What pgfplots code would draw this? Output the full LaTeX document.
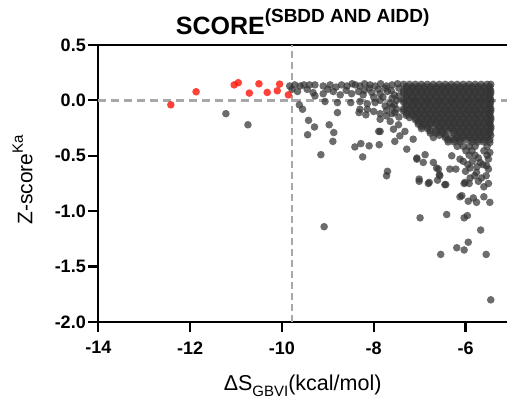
\documentclass[border=0pt]{standalone}
\usepackage{fontspec}
\setmainfont{Liberation Sans}
\usepackage{pgfplots}
\pgfplotsset{compat=1.18}
\definecolor{ptgray}{RGB}{51,51,51}
\definecolor{rd}{RGB}{255,20,10}
\definecolor{dashgray}{RGB}{168,168,168}
\pgfplotsset{graypts/.style={only marks, mark=*, mark size=3.8pt, draw opacity=0, line width=0pt, mark options={draw opacity=0, line width=0pt, fill=ptgray, fill opacity=0.72}}}
\begin{document}
\begin{tikzpicture}
\begin{axis}[name=ax,
  scale only axis, width=408.7pt, height=277pt,
  xmin=-14, xmax=-5.096, ymin=-2.0, ymax=0.5,
  axis x line=box, axis y line=left,
  axis line style={-, line width=2.2pt, black},
  xtick pos=bottom, ytick pos=left,
  tick align=outside, major tick length=10pt,
  every tick/.style={black, line width=2.2pt},
  xtick={-14,-12,-10,-8,-6}, xticklabels={-14,-12,-10,-8,-6},
  ytick={-2,-1.5,-1,-0.5,0,0.5}, yticklabels={-2.0,-1.5,-1.0,-0.5,0.0,0.5},
  ticklabel style={font=\fontsize{18}{18}\selectfont\bfseries},
  xticklabel style={yshift=-6pt},
  yticklabel style={xshift=1pt},
  clip=false,
]
% reference lines
\addplot[dashgray, line width=2.3pt, dash pattern=on 8pt off 5pt] coordinates {(-14,0) (-5.096,0)};
\addplot[dashgray, line width=2.3pt, dash pattern=on 7pt off 4pt] coordinates {(-9.78,-2) (-9.78,0.5)};
% scattered gray points
\addplot[graypts] table {
x y
-11.22 -0.12
-10.74 -0.22
-9.83 0.13
-9.78 0.10
-9.72 0.14
-9.66 0.08
-9.60 0.13
-9.52 0.14
-9.45 0.10
-9.40 0.14
-9.28 0.14
-9.10 0.13
-8.95 0.14
-8.82 0.12
-8.70 0.14
-8.58 0.13
-8.47 0.15
-8.40 0.14
-8.30 0.13
-8.20 0.15
-8.08 0.14
-7.97 0.13
-7.85 0.15
-7.72 0.13
-7.60 0.14
-7.48 0.15
-9.32 0.07
-9.28 0.04
-9.10 0.06
-9.00 0.10
-8.88 0.08
-8.73 0.05
-8.60 0.09
-8.48 0.06
-8.33 0.08
-8.23 0.05
-8.20 0.09
-8.10 0.11
-8.04 0.07
-7.90 0.10
-7.86 0.06
-7.75 0.11
-7.70 0.08
-7.62 0.09
-7.55 0.05
-7.45 0.11
-9.06 -0.01
-8.79 -0.02
-8.50 -0.02
-8.30 -0.01
-8.14 -0.03
-8.00 0.03
-7.97 -0.02
-7.86 0.00
-7.80 0.03
-7.65 -0.03
-7.60 0.02
-7.50 0.00
-7.45 0.04
-8.79 -0.11
-8.32 -0.11
-8.17 -0.13
-8.14 -0.08
-8.00 -0.10
-7.86 -0.12
-7.75 -0.05
-7.72 -0.09
-7.60 -0.12
-7.60 -0.06
-7.55 -0.04
-7.50 -0.08
-7.45 -0.15
-8.30 -0.08
-7.86 -0.17
-7.72 -0.14
-7.64 -0.19
-7.54 -0.11
-7.46 -0.22
-7.57 -0.26
-7.86 -0.28
-7.43 -0.32
-7.32 -0.28
-9.62 -0.04
-9.55 -0.08
-9.42 -0.18
-9.29 -0.24
-9.44 -0.31
-8.97 -0.22
-8.87 -0.29
-8.89 -0.37
-9.15 -0.49
-8.41 -0.42
-8.28 -0.39
-8.10 -0.41
-8.24 -0.51
-7.88 -0.40
-7.89 -0.28
-7.70 -0.64
-7.72 -0.68
-9.08 -1.14
-7.54 -0.37
-7.28 -0.44
-7.14 -0.35
-7.06 -0.52
-6.88 -0.49
-6.92 -0.56
-6.70 -0.56
-6.59 -0.62
-6.56 -0.68
-7.01 -0.71
-6.79 -0.74
-6.45 -0.76
-6.34 -0.62
-6.21 -0.62
-6.30 -0.50
-6.12 -0.53
-6.01 -0.74
-5.90 -0.61
-5.76 -0.65
-5.68 -0.56
-5.54 -0.59
-5.47 -0.47
-5.47 -0.38
-6.08 -0.86
-7.06 -0.53
-6.63 -0.61
-6.57 -0.67
-6.43 -0.76
-7.01 -0.73
-6.81 -0.75
-6.61 -0.72
-6.03 -0.75
-5.92 -0.75
-5.72 -0.73
-6.12 -0.87
-5.94 -0.91
-5.83 -0.88
-5.76 -0.92
-5.60 -0.87
-5.47 -0.92
-6.99 -1.06
-6.41 -1.03
-6.03 -1.06
-5.96 -1.04
-5.67 -1.17
-5.94 -1.28
-6.19 -1.33
-6.03 -1.35
-6.54 -1.39
-5.55 -1.39
-5.45 -1.80
-6.05 -0.55
-5.95 -0.58
-5.85 -0.55
-5.75 -0.60
-5.62 -0.58
-5.50 -0.62
-5.55 -0.68
-5.65 -0.70
-5.80 -0.68
-5.90 -0.70
-5.60 -0.78
-5.50 -0.75
-6.00 -0.64
-5.72 -0.52
-5.50 -0.53
};
% dense block, rows A pattern
\addplot[graypts] table {
x y
-7.35 0.145
-7.22 0.145
-7.09 0.145
-6.96 0.145
-6.83 0.145
-6.70 0.145
-6.57 0.145
-6.44 0.145
-6.31 0.145
-6.18 0.145
-6.05 0.145
-5.92 0.145
-5.79 0.145
-5.66 0.145
-5.53 0.145
-5.45 0.145
-7.35 0.085
-7.22 0.085
-7.09 0.085
-6.96 0.085
-6.83 0.085
-6.70 0.085
-6.57 0.085
-6.44 0.085
-6.31 0.085
-6.18 0.085
-6.05 0.085
-5.92 0.085
-5.79 0.085
-5.66 0.085
-5.53 0.085
-5.45 0.085
-7.35 0.065
-7.22 0.065
-7.09 0.065
-6.96 0.065
-6.83 0.065
-6.70 0.065
-6.57 0.065
-6.44 0.065
-6.31 0.065
-6.18 0.065
-6.05 0.065
-5.92 0.065
-5.79 0.065
-5.66 0.065
-5.53 0.065
-5.45 0.065
-7.35 0.005
-7.22 0.005
-7.09 0.005
-6.96 0.005
-6.83 0.005
-6.70 0.005
-6.57 0.005
-6.44 0.005
-6.31 0.005
-6.18 0.005
-6.05 0.005
-5.92 0.005
-5.79 0.005
-5.66 0.005
-5.53 0.005
-5.45 0.005
-7.35 -0.015
-7.22 -0.015
-7.09 -0.015
-6.96 -0.015
-6.83 -0.015
-6.70 -0.015
-6.57 -0.015
-6.44 -0.015
-6.31 -0.015
-6.18 -0.015
-6.05 -0.015
-5.92 -0.015
-5.79 -0.015
-5.66 -0.015
-5.53 -0.015
-5.45 -0.015
-7.35 -0.075
-7.22 -0.075
-7.09 -0.075
-6.96 -0.075
-6.83 -0.075
-6.70 -0.075
-6.57 -0.075
-6.44 -0.075
-6.31 -0.075
-6.18 -0.075
-6.05 -0.075
-5.92 -0.075
-5.79 -0.075
-5.66 -0.075
-5.53 -0.075
-5.45 -0.075
-7.35 -0.095
-7.22 -0.095
-7.09 -0.095
-6.96 -0.095
-6.83 -0.095
-6.70 -0.095
-6.57 -0.095
-6.44 -0.095
-6.31 -0.095
-6.18 -0.095
-6.05 -0.095
-5.92 -0.095
-5.79 -0.095
-5.66 -0.095
-5.53 -0.095
-5.45 -0.095
-7.22 -0.155
-7.09 -0.155
-6.96 -0.155
-6.83 -0.155
-6.70 -0.155
-6.57 -0.155
-6.44 -0.155
-6.31 -0.155
-6.18 -0.155
-6.05 -0.155
-5.92 -0.155
-5.79 -0.155
-5.66 -0.155
-5.53 -0.155
-5.45 -0.155
-7.09 -0.175
-6.96 -0.175
-6.83 -0.175
-6.70 -0.175
-6.57 -0.175
-6.44 -0.175
-6.31 -0.175
-6.18 -0.175
-6.05 -0.175
-5.92 -0.175
-5.79 -0.175
-5.66 -0.175
-5.53 -0.175
-5.45 -0.175
-6.96 -0.235
-6.83 -0.235
-6.70 -0.235
-6.57 -0.235
-6.44 -0.235
-6.31 -0.235
-6.18 -0.235
-6.05 -0.235
-5.92 -0.235
-5.79 -0.235
-5.66 -0.235
-5.53 -0.235
-5.45 -0.235
-6.96 -0.255
-6.83 -0.255
-6.57 -0.255
-6.44 -0.255
-6.31 -0.255
-6.18 -0.255
-6.05 -0.255
-5.92 -0.255
-5.79 -0.255
-5.66 -0.255
-5.53 -0.255
-5.45 -0.255
-6.57 -0.315
-6.44 -0.315
-6.18 -0.315
-6.05 -0.315
-5.92 -0.315
-5.79 -0.315
-5.66 -0.315
-5.53 -0.315
-5.45 -0.315
-6.70 -0.335
-6.44 -0.335
-6.31 -0.335
-6.18 -0.335
-6.05 -0.335
-5.92 -0.335
-5.79 -0.335
-5.66 -0.335
-5.53 -0.335
-6.18 -0.415
-6.05 -0.415
-5.92 -0.415
-5.79 -0.415
-5.53 -0.415
-5.92 -0.495
-5.79 -0.495
-5.53 -0.495
};
% dense block, rows B pattern
\addplot[graypts] table {
x y
-7.29 0.125
-7.16 0.125
-7.03 0.125
-6.90 0.125
-6.77 0.125
-6.64 0.125
-6.51 0.125
-6.38 0.125
-6.25 0.125
-6.12 0.125
-5.99 0.125
-5.86 0.125
-5.73 0.125
-5.60 0.125
-5.47 0.125
-7.29 0.105
-7.16 0.105
-7.03 0.105
-6.90 0.105
-6.77 0.105
-6.64 0.105
-6.51 0.105
-6.38 0.105
-6.25 0.105
-6.12 0.105
-5.99 0.105
-5.86 0.105
-5.73 0.105
-5.60 0.105
-5.47 0.105
-7.29 0.045
-7.16 0.045
-7.03 0.045
-6.90 0.045
-6.77 0.045
-6.64 0.045
-6.51 0.045
-6.38 0.045
-6.25 0.045
-6.12 0.045
-5.99 0.045
-5.86 0.045
-5.73 0.045
-5.60 0.045
-5.47 0.045
-7.29 0.025
-7.16 0.025
-7.03 0.025
-6.90 0.025
-6.77 0.025
-6.64 0.025
-6.51 0.025
-6.38 0.025
-6.25 0.025
-6.12 0.025
-5.99 0.025
-5.86 0.025
-5.73 0.025
-5.60 0.025
-5.47 0.025
-7.29 -0.035
-7.16 -0.035
-7.03 -0.035
-6.90 -0.035
-6.77 -0.035
-6.64 -0.035
-6.51 -0.035
-6.38 -0.035
-6.25 -0.035
-6.12 -0.035
-5.99 -0.035
-5.86 -0.035
-5.73 -0.035
-5.60 -0.035
-5.47 -0.035
-7.29 -0.055
-7.16 -0.055
-7.03 -0.055
-6.90 -0.055
-6.77 -0.055
-6.64 -0.055
-6.51 -0.055
-6.38 -0.055
-6.25 -0.055
-6.12 -0.055
-5.99 -0.055
-5.86 -0.055
-5.73 -0.055
-5.60 -0.055
-5.47 -0.055
-7.29 -0.115
-7.16 -0.115
-7.03 -0.115
-6.90 -0.115
-6.77 -0.115
-6.64 -0.115
-6.51 -0.115
-6.38 -0.115
-6.25 -0.115
-6.12 -0.115
-5.99 -0.115
-5.86 -0.115
-5.73 -0.115
-5.60 -0.115
-5.47 -0.115
-7.29 -0.135
-7.16 -0.135
-7.03 -0.135
-6.90 -0.135
-6.77 -0.135
-6.64 -0.135
-6.51 -0.135
-6.38 -0.135
-6.25 -0.135
-6.12 -0.135
-5.99 -0.135
-5.86 -0.135
-5.73 -0.135
-5.60 -0.135
-5.47 -0.135
-7.03 -0.195
-6.90 -0.195
-6.77 -0.195
-6.64 -0.195
-6.51 -0.195
-6.38 -0.195
-6.25 -0.195
-6.12 -0.195
-5.99 -0.195
-5.86 -0.195
-5.73 -0.195
-5.60 -0.195
-5.47 -0.195
-7.03 -0.215
-6.90 -0.215
-6.77 -0.215
-6.64 -0.215
-6.51 -0.215
-6.38 -0.215
-6.25 -0.215
-6.12 -0.215
-5.99 -0.215
-5.86 -0.215
-5.73 -0.215
-5.60 -0.215
-5.47 -0.215
-6.77 -0.275
-6.64 -0.275
-6.51 -0.275
-6.38 -0.275
-6.25 -0.275
-6.12 -0.275
-5.99 -0.275
-5.86 -0.275
-5.73 -0.275
-5.60 -0.275
-5.47 -0.275
-6.77 -0.295
-6.64 -0.295
-6.51 -0.295
-6.25 -0.295
-6.12 -0.295
-5.99 -0.295
-5.86 -0.295
-5.73 -0.295
-5.60 -0.295
-5.47 -0.295
-6.38 -0.355
-6.25 -0.355
-6.12 -0.355
-5.99 -0.355
-5.86 -0.355
-5.73 -0.355
-5.60 -0.355
-5.47 -0.355
-6.38 -0.375
-6.25 -0.375
-6.12 -0.375
-5.86 -0.375
-5.73 -0.375
-5.60 -0.375
-5.99 -0.455
-5.86 -0.455
-5.60 -0.455
};
% red points
\addplot[only marks, mark=*, mark size=3.8pt, draw opacity=0, line width=0pt, mark options={draw opacity=0, line width=0pt, fill=rd, fill opacity=0.8}] table {
x y
-12.42 -0.04
-11.87 0.078
-11.04 0.14
-10.95 0.16
-10.71 0.066
-10.50 0.15
-10.32 0.072
-10.10 0.087
-10.05 0.147
-9.86 0.05
};
\node[rotate=90, anchor=base] at ([xshift=-66pt]rel axis cs:0,0.513)
  {\fontsize{21}{21}\selectfont Z-score\raisebox{0.45em}{\fontsize{15}{15}\selectfont Ka}};
\node[anchor=base] at ([yshift=-68pt]rel axis cs:0.5,0)
  {\fontsize{21.5}{21.5}\selectfont ΔS\raisebox{-0.28em}{\fontsize{15}{15}\selectfont GBVI}(kcal/mol)};
\node[anchor=base] at ([yshift=10pt]rel axis cs:0.5,1)
  {\fontsize{25}{25}\selectfont\bfseries SCORE\raisebox{12pt}{\fontsize{19}{19}\selectfont (SBDD AND AIDD)}};
\end{axis}
\pgfresetboundingbox
\path[use as bounding box] ([shift={(-98.3pt,-75pt)}]ax.south west) rectangle ([shift={(0pt,45pt)}]ax.north east);
\end{tikzpicture}
\end{document}
